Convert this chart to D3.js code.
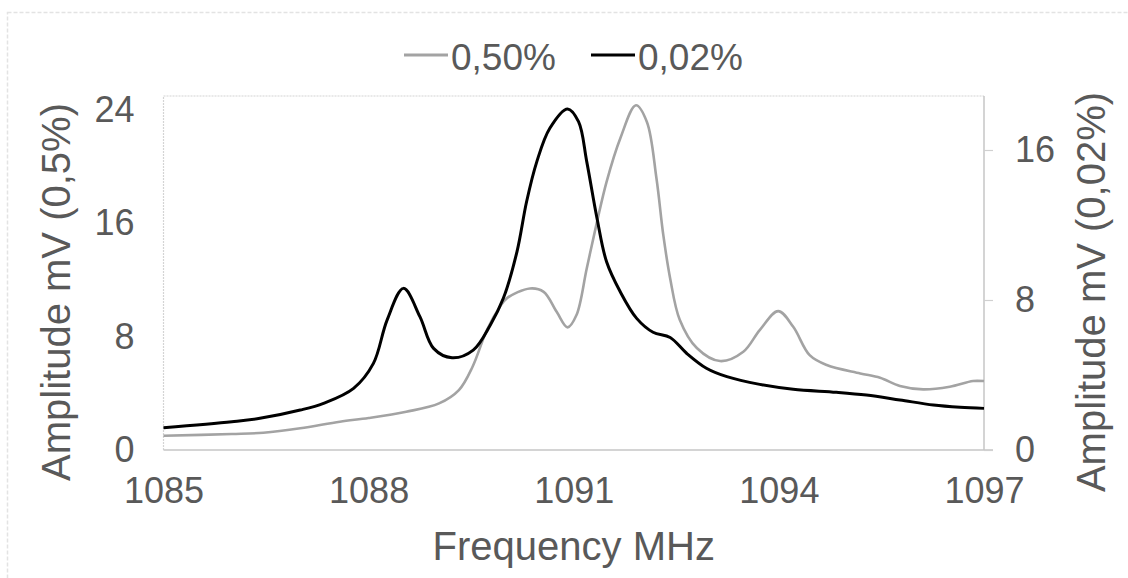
<!DOCTYPE html>
<html>
<head>
<meta charset="utf-8">
<script src="https://cdn.jsdelivr.net/npm/d3@7/dist/d3.min.js"></script>
<style>
  html, body { margin: 0; padding: 0; background: #fff; }
  svg { display: block; font-family: "Liberation Sans", Arial, sans-serif; }
</style>
</head>
<body>
<svg id="chart" width="1128" height="578"></svg>
<script>
// Frequency sweep, MHz
const freq050 = [1085.0, 1086.0, 1086.46, 1087.0, 1087.58, 1088.0, 1088.55, 1089.03, 1089.32, 1089.52,
  1089.73, 1089.92, 1090.02, 1090.36, 1090.56, 1090.75, 1090.91, 1091.04, 1091.19, 1091.34, 1091.48,
  1091.68, 1091.91, 1092.07, 1092.21, 1092.31, 1092.41, 1092.55, 1092.80, 1093.14, 1093.48, 1093.72,
  1093.99, 1094.21, 1094.45, 1094.70, 1095.19, 1095.48, 1095.77, 1096.11, 1096.50, 1096.84, 1097.0];
// Amplitude mV, 0.50 % sample (left axis)
const amp050 = [1.01, 1.13, 1.22, 1.53, 2.0, 2.26, 2.7, 3.29, 4.23, 5.88,
  8.47, 10.11, 10.71, 11.41, 11.17, 9.76, 8.66, 9.53, 12.82, 16.11, 18.94,
  22.0, 24.35, 23.17, 19.17, 15.17, 12.12, 9.2, 7.2, 6.28, 6.94, 8.47,
  9.81, 8.7, 6.7, 6.0, 5.41, 5.1, 4.52, 4.28, 4.47, 4.87, 4.87];

const freq002 = [1085.0, 1086.0, 1086.41, 1087.0, 1087.34, 1087.78, 1088.07, 1088.27, 1088.51, 1088.75,
  1088.95, 1089.22, 1089.53, 1089.78, 1089.97, 1090.17, 1090.31, 1090.46, 1090.65, 1090.91, 1091.07,
  1091.19, 1091.34, 1091.48, 1091.68, 1091.92, 1092.16, 1092.41, 1092.65, 1092.94, 1093.24, 1093.72,
  1094.21, 1094.84, 1095.28, 1095.77, 1096.26, 1096.65, 1097.0];
// Amplitude mV, 0.02 % sample (right axis)
const amp002 = [1.19, 1.51, 1.69, 2.13, 2.49, 3.29, 4.62, 6.93, 8.62, 7.11,
  5.42, 4.92, 5.33, 6.67, 8.09, 10.58, 13.24, 15.38, 17.16, 18.19, 17.51,
  15.38, 12.36, 10.04, 8.44, 7.02, 6.28, 6.0, 5.16, 4.36, 3.91, 3.5,
  3.24, 3.08, 2.93, 2.67, 2.4, 2.28, 2.22];

const xTicks = [1085, 1088, 1091, 1094, 1097];
const yLeftTicks = [0, 8, 16, 24];
const yRightTicks = [0, 8, 16];
const seriesNames = ["0,50%", "0,02%"];

const svg = d3.select("#chart");
const plot = { left: 163.5, right: 984, top: 96, bottom: 450 };
const textColor = "#595959";

// outer chart frame (dashed)
svg.append("rect")
  .attr("x", 7.5).attr("y", 12.5)
  .attr("width", 1200).attr("height", 700)
  .attr("fill", "none")
  .attr("stroke", "#e3e3e3")
  .attr("stroke-width", 1.5)
  .attr("stroke-dasharray", "4 2");

const x = d3.scaleLinear().domain([1085, 1097]).range([plot.left, plot.right]);
const yL = d3.scaleLinear().domain([0, 25]).range([plot.bottom, plot.top]);
const yR = d3.scaleLinear().domain([0, 18.88]).range([plot.bottom, plot.top]);

// plot area border (left / top)
svg.append("path")
  .attr("d", `M${plot.left},${plot.bottom} V${plot.top} H${plot.right}`)
  .attr("fill", "none")
  .attr("stroke", "#d4d4d4")
  .attr("stroke-width", 1.2)
  .attr("stroke-dasharray", "2 1");

// bottom axis
const gx = svg.append("g").attr("transform", `translate(0,${plot.bottom})`)
  .call(d3.axisBottom(x).tickValues(xTicks).tickSize(0).tickPadding(27).tickFormat(d3.format("d")));
gx.select(".domain").remove();
gx.selectAll("text").attr("fill", textColor).attr("font-size", 36).attr("font-family", "Liberation Sans");
svg.append("line")
  .attr("x1", plot.left).attr("x2", plot.right + 9)
  .attr("y1", plot.bottom).attr("y2", plot.bottom)
  .attr("stroke", "#c6c6c6").attr("stroke-width", 1.5);

// left axis
const gl = svg.append("g").attr("transform", `translate(${plot.left},0)`)
  .call(d3.axisLeft(yL).tickValues(yLeftTicks).tickSize(0).tickPadding(29).tickFormat(d3.format("d")));
gl.select(".domain").remove();
gl.selectAll("text").attr("fill", textColor).attr("font-size", 36).attr("font-family", "Liberation Sans");

// right axis
const gr = svg.append("g").attr("transform", `translate(${plot.right},0)`)
  .call(d3.axisRight(yR).tickValues(yRightTicks).tickSize(9).tickPadding(22).tickFormat(d3.format("d")));
gr.select(".domain").attr("stroke", "#c6c6c6").attr("stroke-width", 1.5)
  .attr("d", `M0,${plot.top}V${plot.bottom}`);
gr.selectAll(".tick line").attr("stroke", "#d0d0d0").attr("stroke-width", 1.2);
gr.selectAll("text").attr("fill", textColor).attr("font-size", 36).attr("font-family", "Liberation Sans");

// smoothed curves
const line050 = d3.line().x((d, i) => x(freq050[i])).y(d => yL(d)).curve(d3.curveCatmullRom.alpha(0.5));
const line002 = d3.line().x((d, i) => x(freq002[i])).y(d => yR(d)).curve(d3.curveCatmullRom.alpha(0.5));

svg.append("path").attr("d", line050(amp050))
  .attr("fill", "none").attr("stroke", "#a3a3a3").attr("stroke-width", 2.6)
  .attr("stroke-linejoin", "round");
svg.append("path").attr("d", line002(amp002))
  .attr("fill", "none").attr("stroke", "#000").attr("stroke-width", 3)
  .attr("stroke-linejoin", "round");

// axis titles
svg.append("text")
  .attr("transform", "translate(56,292) rotate(-90)")
  .attr("text-anchor", "middle").attr("dominant-baseline", "central")
  .attr("fill", textColor).attr("font-size", 40)
  .text("Amplitude mV (0,5%)");
svg.append("text")
  .attr("transform", "translate(1091,292) rotate(-90)")
  .attr("text-anchor", "middle").attr("dominant-baseline", "central")
  .attr("fill", textColor).attr("font-size", 40)
  .text("Amplitude mV (0,02%)");
svg.append("text")
  .attr("x", (plot.left + plot.right) / 2).attr("y", 560)
  .attr("text-anchor", "middle")
  .attr("fill", textColor).attr("font-size", 40)
  .text("Frequency MHz");

// legend
const legendItems = [
  { name: seriesNames[0], color: "#a3a3a3", x0: 404 },
  { name: seriesNames[1], color: "#000", x0: 591 }
];
const lg = svg.append("g");
legendItems.forEach(it => {
  lg.append("line")
    .attr("x1", it.x0).attr("x2", it.x0 + 44)
    .attr("y1", 55).attr("y2", 55)
    .attr("stroke", it.color).attr("stroke-width", 3);
  lg.append("text")
    .attr("x", it.x0 + 47).attr("y", 70)
    .attr("fill", textColor).attr("font-size", 37)
    .text(it.name);
});
</script>
</body>
</html>
